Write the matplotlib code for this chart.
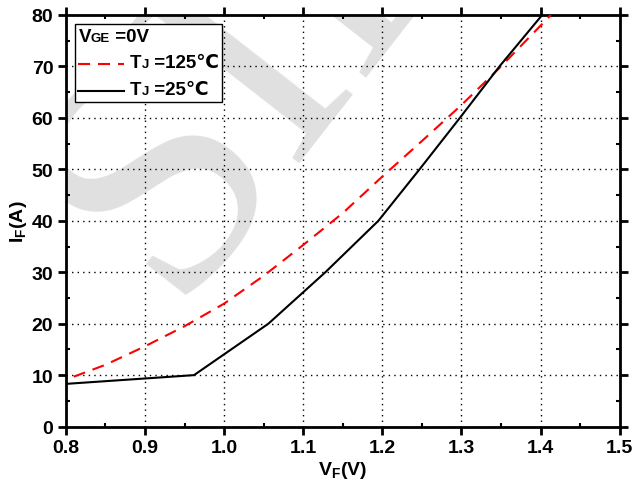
import matplotlib
matplotlib.use('Agg')
import matplotlib.pyplot as plt
from matplotlib.ticker import MultipleLocator
from matplotlib.lines import Line2D
from matplotlib.offsetbox import (AnchoredOffsetbox, DrawingArea, HPacker,
                                  TextArea, VPacker)

params = {'font.family': ['Liberation Sans', 'DejaVu Sans'],
          'font.weight': 'bold',
          'font.size': 14,
          'axes.labelweight': 'bold',
          'mathtext.fontset': 'custom',
          'mathtext.rm': 'Liberation Sans:bold',
          'mathtext.bf': 'Liberation Sans:bold',
          'mathtext.it': 'Liberation Sans:bold',
          'axes.linewidth': 2.0}
plt.rcParams.update(params)

# forward characteristics
vf_125 = [0.81, 0.85, 0.90, 0.95, 1.00, 1.05, 1.10, 1.15, 1.20, 1.25, 1.30, 1.35, 1.413]
if_125 = [9.7, 12.0, 15.6, 19.5, 23.9, 29.3, 35.3, 41.5, 48.6, 55.5, 62.5, 70.0, 80.0]

vf_25 = [0.80, 0.962, 1.056, 1.128, 1.195, 1.247, 1.298, 1.348, 1.402]
if_25 = [8.3, 10.0, 20.0, 30.0, 40.0, 50.0, 60.0, 70.0, 80.0]

RED_DASH = (5.8, 3.8)

fig = plt.figure(figsize=(6.33, 4.89), dpi=100)
ax = fig.add_axes([0.104, 0.1256, 0.875, 0.8417])

# faint watermark
ax.text(0.075, 0.43, 'SILAN', transform=ax.transAxes, fontsize=240,
        family='Liberation Serif', fontweight='normal', color='#e0e0e0',
        rotation=52, ha='left', va='center', rotation_mode='anchor',
        zorder=0, clip_on=True)

ax.plot(vf_125, if_125, color='red', lw=1.5, dashes=RED_DASH, zorder=3)
ax.plot(vf_25, if_25, color='black', lw=1.5, zorder=3)

ax.set_xlim(0.8, 1.5)
ax.set_ylim(0, 80)
ax.xaxis.set_major_locator(MultipleLocator(0.1))
ax.xaxis.set_minor_locator(MultipleLocator(0.05))
ax.yaxis.set_major_locator(MultipleLocator(10))
ax.yaxis.set_minor_locator(MultipleLocator(5))
ax.tick_params(which='major', direction='out', length=6, width=2, labelsize=14, pad=3)
ax.tick_params(which='minor', direction='in', length=3, width=1.5,
               top=True, right=True)
ax.tick_params(which='major', top=True, right=True)
ax.grid(True, which='major', color='black', lw=1, linestyle=(0, (1, 3)))

ax.set_xlabel(r'V$_{\mathrm{F}}$(V)', fontsize=14, labelpad=2)
ax.set_ylabel(r'I$_{\mathrm{F}}$(A)', fontsize=14, labelpad=2)


# legend built from pieces so the subscripts and ℃ come out right
big = dict(fontsize=13.5, fontweight='bold')
small = dict(fontsize=9.5, fontweight='bold')


def sample(color, dashes=None):
    da = DrawingArea(33, 10, 0, 0)
    ln = Line2D([0, 33], [4, 4], color=color, lw=1.5)
    if dashes:
        ln.set_dashes(dashes)
    da.add_artist(ln)
    return da


def label(main, sub, rest):
    return [TextArea(main, textprops=big), TextArea(sub, textprops=small),
            TextArea(rest, textprops=big)]


row_title = HPacker(children=label('V', 'GE', ' =0V'), align='baseline', pad=0, sep=0)
row_hot = HPacker(children=[sample('red', RED_DASH),
                            HPacker(children=label('T', 'J', ' =125℃'),
                                    align='baseline', pad=0, sep=0)],
                  align='center', pad=0, sep=4)
row_cold = HPacker(children=[sample('black'),
                             HPacker(children=label('T', 'J', ' =25℃'),
                                     align='baseline', pad=0, sep=0)],
                   align='center', pad=0, sep=4)
box = VPacker(children=[row_title, row_hot, row_cold], align='left', pad=0, sep=7)
anchored = AnchoredOffsetbox(loc='upper left', child=box, pad=0.2,
                             borderpad=0.45, frameon=True)
anchored.patch.set_edgecolor('black')
anchored.patch.set_linewidth(1.0)
anchored.patch.set_boxstyle('square', pad=0)
anchored.set_zorder(5)
ax.add_artist(anchored)

fig.savefig('out.png', dpi=100)
